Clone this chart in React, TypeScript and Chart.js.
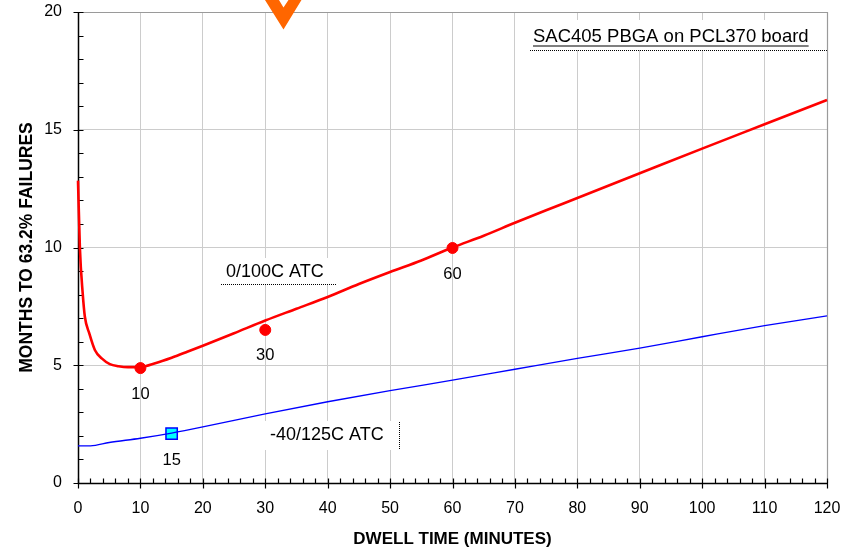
import React, { useEffect, useRef } from "react";
import { Chart, registerables } from "chart.js";

Chart.register(...registerables);

// ---- data ----
const redCurveX = [0, 0.3, 0.75, 1.1, 1.8, 2.7, 3.8, 5.1, 6.5, 8, 10, 12.5, 15, 17.5, 20, 25, 30, 35, 40, 45, 50, 55, 60, 65, 70, 75, 80, 90, 100, 110, 120];
const redCurveY = [12.84, 10.0, 8.06, 7.06, 6.36, 5.65, 5.29, 5.05, 4.96, 4.92, 4.93, 5.1, 5.32, 5.57, 5.83, 6.36, 6.9, 7.4, 7.9, 8.45, 8.96, 9.45, 10.0, 10.5, 11.05, 11.58, 12.1, 13.15, 14.2, 15.23, 16.26];

const blueCurveX = [0, 2, 5, 10, 15, 20, 30, 40, 50, 60, 70, 80, 90, 100, 110, 120];
const blueCurveY = [1.58, 1.58, 1.72, 1.9, 2.12, 2.38, 2.94, 3.45, 3.92, 4.37, 4.83, 5.29, 5.73, 6.21, 6.68, 7.1];

const redPointX = [10, 30, 60];
const redPointY = [4.88, 6.5, 9.98];
const redPointLabels = ["10", "30", "60"];

const bluePointX = [15];
const bluePointY = [2.1];
const bluePointLabels = ["15"];

const xMin = 0, xMax = 120, xStep = 10, xMinorStep = 2;
const yMin = 0, yMax = 20, yStep = 5, yMinorStep = 1;
const arrowX = 33;

const xTitle = "DWELL TIME (MINUTES)";
const yTitle = "MONTHS TO 63.2% FAILURES";
const boardLabel = "SAC405 PBGA on PCL370 board";
const redLabel = "0/100C ATC";
const blueLabel = "-40/125C ATC";

const FONT = "'Liberation Sans', Arial, Helvetica, sans-serif";

const decorPlugin = {
  id: "decor",
  beforeDatasetsDraw(chart: any) {
    const ctx = chart.ctx;
    const { left, right, top, bottom } = chart.chartArea;
    const xs = chart.scales.x;
    const ys = chart.scales.y;
    ctx.save();
    ctx.textBaseline = "alphabetic";
    ctx.textAlign = "left";
    // board label box
    ctx.fillStyle = "#ffffff";
    ctx.fillRect(530, 20, 297, 30);
    ctx.font = `18.5px ${FONT}`;
    ctx.fillStyle = "#000";
    ctx.fillText(boardLabel, 533, 42);
    const w = ctx.measureText(boardLabel).width;
    ctx.strokeStyle = "#000";
    ctx.lineWidth = 1.2;
    ctx.beginPath();
    ctx.moveTo(533, 46);
    ctx.lineTo(533 + w, 46);
    ctx.stroke();
    ctx.lineWidth = 1;
    ctx.setLineDash([1, 1]);
    ctx.beginPath();
    ctx.moveTo(530, 50.5);
    ctx.lineTo(827, 50.5);
    ctx.stroke();
    ctx.setLineDash([]);

    // red label box
    ctx.fillStyle = "#ffffff";
    ctx.fillRect(221, 258, 116, 26);
    ctx.fillStyle = "#000";
    ctx.font = `18px ${FONT}`;
    ctx.fillText(redLabel, 226, 277);
    ctx.setLineDash([1, 1]);
    ctx.beginPath();
    ctx.moveTo(221, 284.5);
    ctx.lineTo(337, 284.5);
    ctx.stroke();
    ctx.setLineDash([]);

    // blue label box
    ctx.fillStyle = "#ffffff";
    ctx.fillRect(264, 421, 135, 29);
    ctx.fillStyle = "#000";
    ctx.fillText(blueLabel, 270, 440);
    ctx.setLineDash([1, 1]);
    ctx.beginPath();
    ctx.moveTo(399.5, 422);
    ctx.lineTo(399.5, 450);
    ctx.stroke();
    ctx.setLineDash([]);

    // top and right borders
    ctx.strokeStyle = "#9a9a9a";
    ctx.lineWidth = 1.2;
    ctx.beginPath();
    ctx.moveTo(left, top + 0.5);
    ctx.lineTo(right + 0.5, top + 0.5);
    ctx.lineTo(right + 0.5, bottom);
    ctx.stroke();
    // axes
    ctx.strokeStyle = "#000";
    ctx.lineWidth = 1.5;
    ctx.beginPath();
    ctx.moveTo(left + 0.5, top);
    ctx.lineTo(left + 0.5, bottom + 0.5);
    ctx.lineTo(right + 0.5, bottom + 0.5);
    ctx.stroke();
    ctx.lineWidth = 1.2;
    ctx.beginPath();
    for (let v = xMin; v <= xMax + 1e-9; v += xMinorStep) {
      const px = Math.round(xs.getPixelForValue(v)) + 0.5;
      const major = Math.abs(v / xStep - Math.round(v / xStep)) < 1e-9;
      ctx.moveTo(px, bottom + 0.5 - 5);
      ctx.lineTo(px, bottom + 0.5 + (major ? 5 : 0));
    }
    for (let v = yMin; v <= yMax + 1e-9; v += yMinorStep) {
      const py = Math.round(ys.getPixelForValue(v)) + 0.5;
      const major = Math.abs(v / yStep - Math.round(v / yStep)) < 1e-9;
      ctx.moveTo(left + 0.5 + 5, py);
      ctx.lineTo(left + 0.5 - (major ? 5 : 0), py);
    }
    ctx.stroke();
    ctx.restore();
  },
  afterDraw(chart: any) {
    const ctx = chart.ctx;
    const xs = chart.scales.x;
    const ys = chart.scales.y;
    ctx.save();
    // point labels
    ctx.fillStyle = "#000";
    ctx.font = `16.5px ${FONT}`;
    ctx.textAlign = "center";
    ctx.textBaseline = "middle";
    redPointX.forEach((v, i) => {
      ctx.fillText(redPointLabels[i], xs.getPixelForValue(v), ys.getPixelForValue(redPointY[i]) + 26);
    });
    bluePointX.forEach((v, i) => {
      ctx.fillText(bluePointLabels[i], xs.getPixelForValue(v), ys.getPixelForValue(bluePointY[i]) + 27);
    });

    // arrow
    const ax = xs.getPixelForValue(arrowX) - 0.5;
    ctx.fillStyle = "#FF6600";
    ctx.beginPath();
    ctx.moveTo(ax - 18.5, 0);
    ctx.lineTo(ax - 4.5, 0);
    ctx.lineTo(ax, 7.5);
    ctx.lineTo(ax + 5, 0);
    ctx.lineTo(ax + 18, 0);
    ctx.lineTo(ax, 29.5);
    ctx.closePath();
    ctx.fill();
    ctx.restore();
  },
};

export default function App() {
  const ref = useRef<HTMLCanvasElement>(null);
  useEffect(() => {
    if (!ref.current) return;
    const chart = new Chart(ref.current, {
      type: "scatter",
      data: {
        datasets: [
          {
            data: redCurveX.map((v, i) => ({ x: v, y: redCurveY[i] })),
            showLine: true,
            borderColor: "#FF0000",
            borderWidth: 2.6,
            pointRadius: 0,
            cubicInterpolationMode: "monotone",
            clip: 4,
          } as any,
          {
            data: blueCurveX.map((v, i) => ({ x: v, y: blueCurveY[i] })),
            showLine: true,
            borderColor: "#0000FF",
            borderWidth: 1.3,
            pointRadius: 0,
            cubicInterpolationMode: "monotone",
          } as any,
          {
            data: redPointX.map((v, i) => ({ x: v, y: redPointY[i] })),
            showLine: false,
            pointRadius: 5.5,
            backgroundColor: "#FF0000",
            borderColor: "#FF0000",
            borderWidth: 1,
          },
          {
            data: bluePointX.map((v, i) => ({ x: v, y: bluePointY[i] })),
            showLine: false,
            pointStyle: "rect",
            pointRadius: 8,
            backgroundColor: "#00FFFF",
            borderColor: "#0000FF",
            borderWidth: 1.5,
          },
        ],
      },
      options: {
        responsive: false,
        animation: false,
        events: [],
        devicePixelRatio: 1,
        layout: { padding: { top: 12, right: 32, left: 0, bottom: 0 } },
        plugins: { legend: { display: false }, tooltip: { enabled: false } },
        scales: {
          x: {
            type: "linear",
            min: xMin,
            max: xMax,
            ticks: { stepSize: xStep, padding: 16, color: "#000", font: { family: FONT, size: 16 } },
            grid: { color: "#cccccc", lineWidth: 1, drawTicks: false },
            border: { display: false },
            title: { display: true, text: xTitle, color: "#000", font: { family: FONT, size: 17, weight: "bold" }, padding: { top: 2, bottom: 0 } },
            afterFit: (s: any) => { s.height = 67; s.paddingLeft = 0; s.paddingRight = 0; s.paddingTop = 0; s.paddingBottom = 0; },
          } as any,
          y: {
            type: "linear",
            min: yMin,
            max: yMax,
            ticks: { stepSize: yStep, padding: 16, color: "#000", font: { family: FONT, size: 16 } },
            grid: { color: "#cccccc", lineWidth: 1, drawTicks: false },
            border: { display: false },
            title: { display: true, text: yTitle, color: "#000", font: { family: FONT, size: 17.5, weight: "bold" }, padding: { top: 17, bottom: 0 } },
            afterFit: (s: any) => { s.width = 78; s.paddingTop = 0; s.paddingBottom = 0; s.paddingLeft = 0; s.paddingRight = 0; },
          } as any,
        },
      },
      plugins: [decorPlugin],
    });
    return () => chart.destroy();
  }, []);
  return (
    <div style={{ position: "absolute", left: 0, top: 0, width: 859, height: 550 }}>
      <canvas ref={ref} width={859} height={550} style={{ display: "block", width: 859, height: 550 }} />
    </div>
  );
}
